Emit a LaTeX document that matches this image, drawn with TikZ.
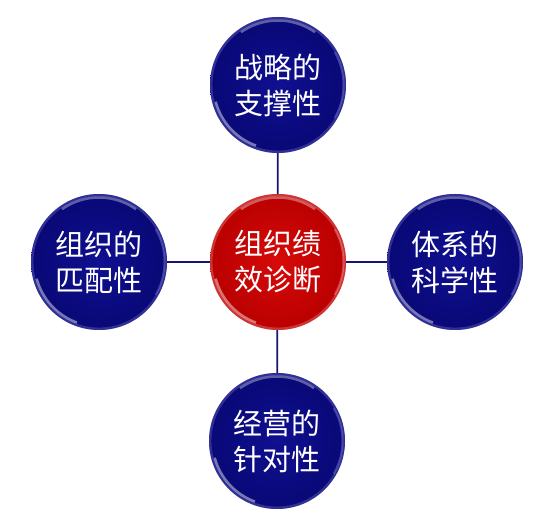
\documentclass[tikz,border=0pt]{standalone}
\usepackage{fontspec}
\newfontfamily\cjk{Noto Sans CJK SC}
\definecolor{navyin}{RGB}{16,16,145}
\definecolor{navyout}{RGB}{8,8,118}
\definecolor{navyrim}{RGB}{120,120,210}
\definecolor{redin}{RGB}{215,10,10}
\definecolor{redout}{RGB}{185,0,0}
\definecolor{redrim}{RGB}{245,150,150}
\definecolor{linecol}{RGB}{22,22,112}
\tikzset{
  ball/.style={circle, minimum size=136pt, inner sep=0pt, text=white,
    font=\cjk\fontsize{29}{36}\selectfont, align=center, shade},
  gloss/.style={path picture={
    \draw[#1, line width=2.5pt, opacity=0.35]
      (path picture bounding box.center) circle[radius=66.8pt];
    \draw[white, line width=2.5pt, opacity=0.35]
      ([shift={(55:64.5pt)}]path picture bounding box.center)
      arc[start angle=55, end angle=125, radius=64.5pt];
    \draw[white, line width=2.5pt, opacity=0.45]
      ([shift={(195:64.5pt)}]path picture bounding box.center)
      arc[start angle=195, end angle=250, radius=64.5pt];
    \draw[#1, line width=2pt, opacity=0.45]
      ([shift={(-30:65.5pt)}]path picture bounding box.center)
      arc[start angle=-30, end angle=30, radius=65.5pt];
  }},
  blueball/.style={ball, inner color=navyin, outer color=navyout, gloss=navyrim},
  redball/.style={ball, inner color=redin, outer color=redout, gloss=redrim},
  link/.style={linecol, line width=1.8pt}
}
\begin{document}
\begin{tikzpicture}[x=1pt, y=1pt]
  \useasboundingbox[fill=white] (0,0) rectangle (547,519);
  \coordinate (pc) at (278,257);
  \coordinate (pt) at (278,434);
  \coordinate (pb) at (277,78);
  \coordinate (pl) at (99,257);
  \coordinate (pr) at (455,257);
  \draw[link] (pt) -- (pb);
  \draw[link] (pl) -- (pr);
  \node[redball]  (c) at (pc) {组织绩\\效诊断};
  \node[blueball] (t) at (pt) {战略的\\支撑性};
  \node[blueball] (b) at (pb) {经营的\\针对性};
  \node[blueball] (l) at (pl) {组织的\\匹配性};
  \node[blueball] (r) at (pr) {体系的\\科学性};
\end{tikzpicture}
\end{document}
